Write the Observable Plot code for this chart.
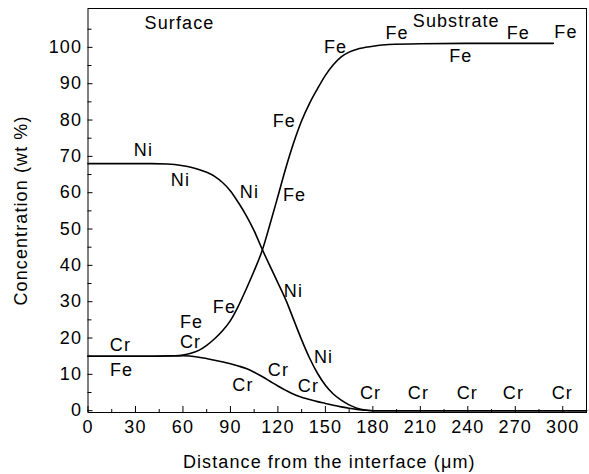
<!DOCTYPE html>
<html><head><meta charset="utf-8">
<script src="https://cdn.jsdelivr.net/npm/d3@7"></script>
<script src="https://cdn.jsdelivr.net/npm/@observablehq/plot@0.6"></script>
<style>body{margin:0;background:#fff} svg text{letter-spacing:1.1px}</style>
</head><body><div id="chart"></div>
<script>
// Distance from the interface (µm) and concentration (wt %) per element
const niDist = [0, 20, 40, 50, 60, 70, 75, 80, 85, 90, 95, 100, 105, 110, 115, 120, 125, 130, 135, 140, 145, 150, 155, 160, 165, 170, 175, 180, 315];
const niConc = [68, 68, 68, 67.9, 67.4, 66.4, 65.6, 64.5, 62.8, 60.5, 57.3, 53.7, 49.5, 44.5, 39.8, 35.2, 30.5, 25, 19.5, 14.5, 10.3, 7, 4.6, 2.9, 1.6, 0.7, 0.2, 0, 0];

const feDist = [0, 20, 40, 55, 60, 65, 70, 75, 80, 85, 90, 95, 100, 105, 110, 115, 120, 125, 130, 135, 140, 145, 150, 155, 160, 165, 170, 180, 190, 210, 250, 294];
const feConc = [15, 15, 15, 15.1, 15.3, 15.8, 16.6, 18, 19.8, 22, 24.8, 28.8, 33.5, 38.5, 44, 51.3, 59, 66.8, 73.8, 79.8, 84.6, 88.6, 92.3, 95.2, 97.4, 98.7, 99.5, 100.3, 100.8, 101, 101.1, 101.1];

const crDist = [0, 40, 60, 70, 80, 90, 95, 100, 105, 110, 115, 120, 125, 130, 135, 140, 145, 150, 155, 160, 165, 170, 175, 180, 315];
const crConc = [15, 15, 15.1, 14.7, 13.9, 12.9, 12.3, 11.6, 10.6, 9.4, 8.1, 6.8, 5.6, 4.5, 3.7, 3.1, 2.5, 2, 1.5, 1.05, 0.65, 0.35, 0.12, 0, 0];

// Tick values
const xTicks = [0, 30, 60, 90, 120, 150, 180, 210, 240, 270, 300];
const xMinor = [15, 45, 75, 105, 135, 165, 195, 225, 255, 285];
const yTicks = [0, 10, 20, 30, 40, 50, 60, 70, 80, 90, 100];
const yMinor = [5, 15, 25, 35, 45, 55, 65, 75, 85, 95, 105];

// Curve labels (data coordinates)
const labelText = ["Surface", "Substrate",
  "Ni", "Ni", "Ni", "Ni", "Ni",
  "Fe", "Fe", "Fe", "Fe", "Fe", "Fe", "Fe", "Fe", "Fe", "Fe",
  "Cr", "Cr", "Cr", "Cr", "Cr", "Cr", "Cr", "Cr", "Cr", "Cr"];
const labelDist = [57.8, 232.7,
  35, 58.4, 102, 129.8, 148.8,
  21.2, 65.4, 86.2, 130.5, 124, 156.4, 195.3, 235.6, 271.9, 302,
  20.5, 64.8, 97.9, 120.3, 139.3, 178.5, 208.8, 239.7, 268.8, 299.7];
const labelConc = [106.6, 107.2,
  71.6, 63.4, 60.2, 32.9, 14.7,
  11, 24.4, 28.5, 59.4, 79.7, 100.1, 103.8, 97.5, 103.8, 104.3,
  18, 18.9, 7.0, 11.2, 6.7, 4.8, 4.8, 4.8, 4.8, 4.8];

const W = 589, H = 474;
const mL = 87.5, mR = 3, mT = 8, mB = 62;
const fw = W - mL - mR, fh = H - mT - mB;
const font = "'Liberation Sans', Arial, Helvetica, sans-serif";
const fs = 18;

const chart = Plot.plot({
  width: W, height: H,
  marginLeft: mL, marginRight: mR, marginTop: mT, marginBottom: mB,
  style: {fontFamily: font, fontSize: fs + "px", background: "#fff", color: "#000"},
  x: {domain: [0, 315]},
  y: {domain: [-0.5, 110.7]},
  marks: [
    Plot.frame({stroke: "#000", strokeWidth: 1}),
    Plot.axisX({ticks: xTicks, tickSize: 0, tickPadding: 8, fontSize: fs, label: null}),
    Plot.axisY({ticks: yTicks, tickSize: 0, tickPadding: 6, fontSize: fs, label: null}),
    Plot.tickX(xTicks, {insetTop: fh - 6, stroke: "#000"}),
    Plot.tickX(xMinor, {insetTop: fh - 3, stroke: "#000"}),
    Plot.tickY(yTicks, {insetRight: fw - 5, stroke: "#000"}),
    Plot.tickY(yMinor, {insetRight: fw - 4, stroke: "#000"}),
    Plot.line(niDist, {x: niDist, y: niConc, curve: "monotone-x", stroke: "#000", strokeWidth: 1.6}),
    Plot.line(feDist, {x: feDist, y: feConc, curve: "monotone-x", stroke: "#000", strokeWidth: 1.6}),
    Plot.line(crDist, {x: crDist, y: crConc, curve: "monotone-x", stroke: "#000", strokeWidth: 1.6}),
    Plot.text(labelText, {x: labelDist, y: labelConc, text: labelText, fontSize: fs, fill: "#000"}),
    Plot.text(["Concentration (wt %)"], {frameAnchor: "left", textAnchor: "middle", lineAnchor: "middle", dx: -67, rotate: -90, fontSize: fs, fill: "#000"}),
    Plot.text(["Distance from the interface (μm)"], {frameAnchor: "bottom", lineAnchor: "middle", dy: 50, dx: -8, fontSize: fs, fill: "#000"})
  ]
});
document.getElementById("chart").appendChild(chart);
</script>
</body></html>
